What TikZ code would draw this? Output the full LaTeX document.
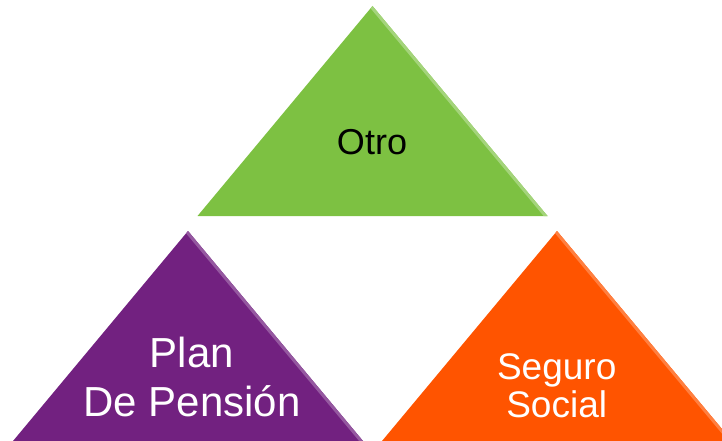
\documentclass[tikz,border=0pt]{standalone}
\usepackage{fontspec}
\setmainfont{Liberation Sans}
\definecolor{otrogreen}{RGB}{125,193,66}
\definecolor{planpurple}{RGB}{114,33,128}
\definecolor{seguroorange}{RGB}{255,84,0}
\tikzset{
  label/.style={inner sep=0pt, align=center},
}
\begin{document}
\begin{tikzpicture}[x=1pt,y=-1pt]
    \useasboundingbox (0,0) rectangle (722,441);

    % Corners
    \coordinate (otroA) at (372.5,6);
    \coordinate (otroL) at (197.5,216);
    \coordinate (otroR) at (547.5,216);
    \coordinate (planA) at (188,231);
    \coordinate (planL) at (13,441);
    \coordinate (planR) at (363,441);
    \coordinate (segA) at (557,231);
    \coordinate (segL) at (382,441);
    \coordinate (segR) at (732,441);

    % Triangles
    \fill[otrogreen] (otroA) -- (otroL) -- (otroR) -- cycle;
    \fill[planpurple] (planA) -- (planL) -- (planR) -- cycle;
    \fill[seguroorange] (segA) -- (segL) -- (segR) -- cycle;

    % Bevel on the right edges
    \begin{scope}
      \clip (otroA) -- (otroL) -- (otroR) -- cycle;
      \draw[otrogreen!70!white, line width=6pt] (otroA) -- (otroR);
    \end{scope}
    \begin{scope}
      \clip (planA) -- (planL) -- (planR) -- cycle;
      \draw[planpurple!75!white, line width=6pt] (planA) -- (planR);
    \end{scope}
    \begin{scope}
      \clip (segA) -- (segL) -- (segR) -- cycle;
      \draw[seguroorange!75!white, line width=6pt] (segA) -- (segR);
    \end{scope}

    % Text
    \node[label, anchor=base, font=\fontsize{36}{40}\selectfont] (otro) at (372,154.3) {Otro};
    \node[label, text=white, font=\fontsize{42}{49}\selectfont] (plan) at (192,377) {Plan\\De Pensión};
    \node[label, text=white, font=\fontsize{37}{38.3}\selectfont] (seguro) at (556.7,385.7) {Seguro\\Social};
\end{tikzpicture}
\end{document}
